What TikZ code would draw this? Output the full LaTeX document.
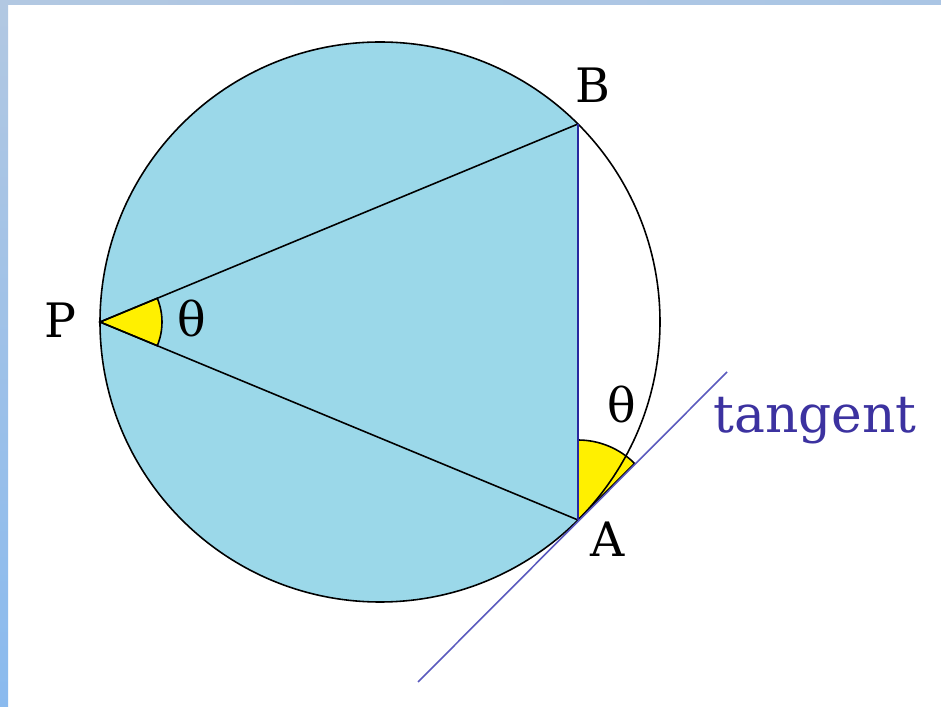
\documentclass[tikz,border=0pt]{standalone}
\usepackage{fontspec}
\setmainfont{DejaVu Serif}
\definecolor{skyfill}{RGB}{155,216,233}
\definecolor{yel}{RGB}{255,240,0}
\definecolor{abblue}{RGB}{40,40,160}
\definecolor{tanblue}{RGB}{90,90,190}
\definecolor{tantext}{RGB}{60,50,160}
\definecolor{edgetop}{RGB}{178,200,226}
\definecolor{edgebot}{RGB}{138,186,238}
\begin{document}
\begin{tikzpicture}[x=0.02cm,y=0.02cm,
  lbl/.style={font=\fontsize{27}{32}\selectfont, inner sep=0, anchor=base},
  thin line/.style={line width=0.9pt}]
\useasboundingbox (0,0) rectangle (941,707);
\fill[white] (0,0) rectangle (941,707);
\shade[top color=edgetop, bottom color=edgebot] (0,0) rectangle (8,707);
\shade[left color=edgetop, right color=edgetop!80!edgebot] (0,702) rectangle (941,707);
% points
\coordinate (C) at (380,385);
\coordinate (P) at (100,385);
\coordinate (B) at (578,583);
\coordinate (A) at (578,187);
\coordinate (T1) at (418,25);
\coordinate (T2) at (727,335);
% shaded major segment
\fill[skyfill] (B) arc[start angle=45,end angle=315,radius=280] -- cycle;
% angle marks
\filldraw[fill=yel, draw=black, thin line] (P) -- ++(-22.5:62) arc[start angle=-22.5,end angle=22.5,radius=62] -- cycle;
\filldraw[fill=yel, draw=black, thin line] (A) -- ++(90:80) arc[start angle=90,end angle=45,radius=80] -- cycle;
% circle and chords
\draw[thin line] (C) circle[radius=280];
\draw[thin line] (P) -- (B);
\draw[thin line] (P) -- (A);
\draw[abblue, thin line] (A) -- (B);
\draw[tanblue, thin line] (T1) -- (T2);
% labels
\node[lbl] (lB) at (593,604) {B};
\node[lbl] (lP) at (60,369) {P};
\node[lbl] (lA) at (608,150) {A};
\node[lbl] (th1) at (192,370) {θ};
\node[lbl] (th2) at (622,284) {θ};
\node[lbl, font=\fontsize{29.5}{34}\selectfont, anchor=base west, text=tantext] (tg) at (713,274) {tangent};
\end{tikzpicture}
\end{document}
